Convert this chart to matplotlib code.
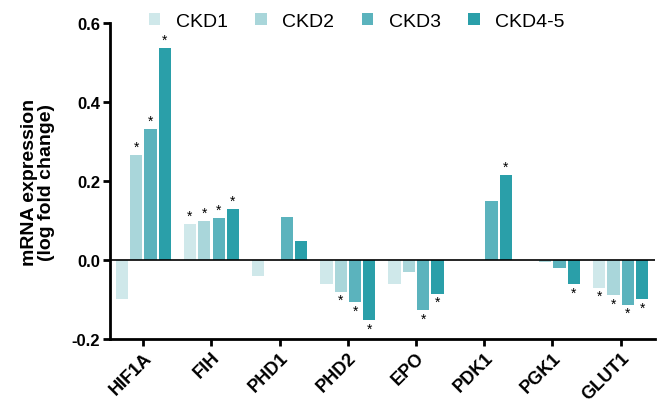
import numpy as np
import matplotlib.pyplot as plt

plt.rcParams['font.family'] = ['Liberation Sans', 'DejaVu Sans']

## Données
genes = ["HIF1A", "FIH", "PHD1", "PHD2", "EPO", "PDK1", "PGK1", "GLUT1"]
groups = ["CKD1", "CKD2", "CKD3", "CKD4-5"]
ckd1 = [-0.098, 0.090, -0.040, -0.060, -0.060, 0.0, 0.0, -0.070]
ckd2 = [0.266, 0.100, 0.0, -0.080, -0.030, 0.0, -0.005, -0.090]
ckd3 = [0.331, 0.107, 0.108, -0.107, -0.128, 0.149, -0.020, -0.113]
ckd45 = [0.536, 0.130, 0.047, -0.153, -0.085, 0.215, -0.062, -0.100]
# étoiles (significativité) par groupe
sig1 = [0, 1, 0, 0, 0, 0, 0, 1]
sig2 = [1, 1, 0, 1, 0, 0, 0, 1]
sig3 = [1, 1, 0, 1, 1, 0, 0, 1]
sig45 = [1, 1, 0, 1, 1, 1, 1, 1]

series = [ckd1, ckd2, ckd3, ckd45]
sigs = [sig1, sig2, sig3, sig45]
colors = ["#cfe8ea", "#a9d6da", "#5bb3bd", "#2a9fa9"]

fig = plt.figure(figsize=(6.62, 4.10), dpi=100)
ax = fig.add_axes([0.166, 0.171, 0.823, 0.770])

x = np.arange(len(genes))
w = 0.18
offs = [-0.315, -0.105, 0.105, 0.315]
for vals, sg, c, o, lab in zip(series, sigs, colors, offs, groups):
    ax.bar(x + o, vals, width=w, color=c, label=lab)
    for xi, v, s in zip(x, vals, sg):
        if s:
            if v >= 0:
                ax.text(xi + o, v + 0.003, "*", ha="center", va="bottom", fontsize=10)
            else:
                ax.text(xi + o, v - 0.003, "*", ha="center", va="top", fontsize=10)

ax.axhline(0, color="black", lw=1.2)
ax.set_xlim(-0.49, 7.5)
ax.set_ylim(-0.2, 0.6)
ax.set_yticks([-0.2, 0.0, 0.2, 0.4, 0.6])
ax.set_yticklabels(["-0.2", "0.0", "0.2", "0.4", "0.6"], fontweight="bold", fontsize=12)
ax.set_xticks(x)
ax.set_xticklabels(genes, rotation=45, ha="right", rotation_mode="anchor",
                   fontweight="bold", fontsize=13)
ax.set_ylabel("mRNA expression\n(log fold change)", fontweight="bold", fontsize=14,
              linespacing=1.0)
ax.yaxis.set_label_coords(-0.10, 0.5)

for s in ["top", "right"]:
    ax.spines[s].set_visible(False)
for s in ["left", "bottom"]:
    ax.spines[s].set_linewidth(2)
ax.tick_params(width=2, length=5, pad=2)

ax.legend(loc="center", bbox_to_anchor=(0.453, 1.005), ncol=4, frameon=False,
          fontsize=14, handlelength=0.6, handleheight=0.6, handletextpad=0.8,
          columnspacing=1.4)

plt.savefig("out.png", dpi=100)
